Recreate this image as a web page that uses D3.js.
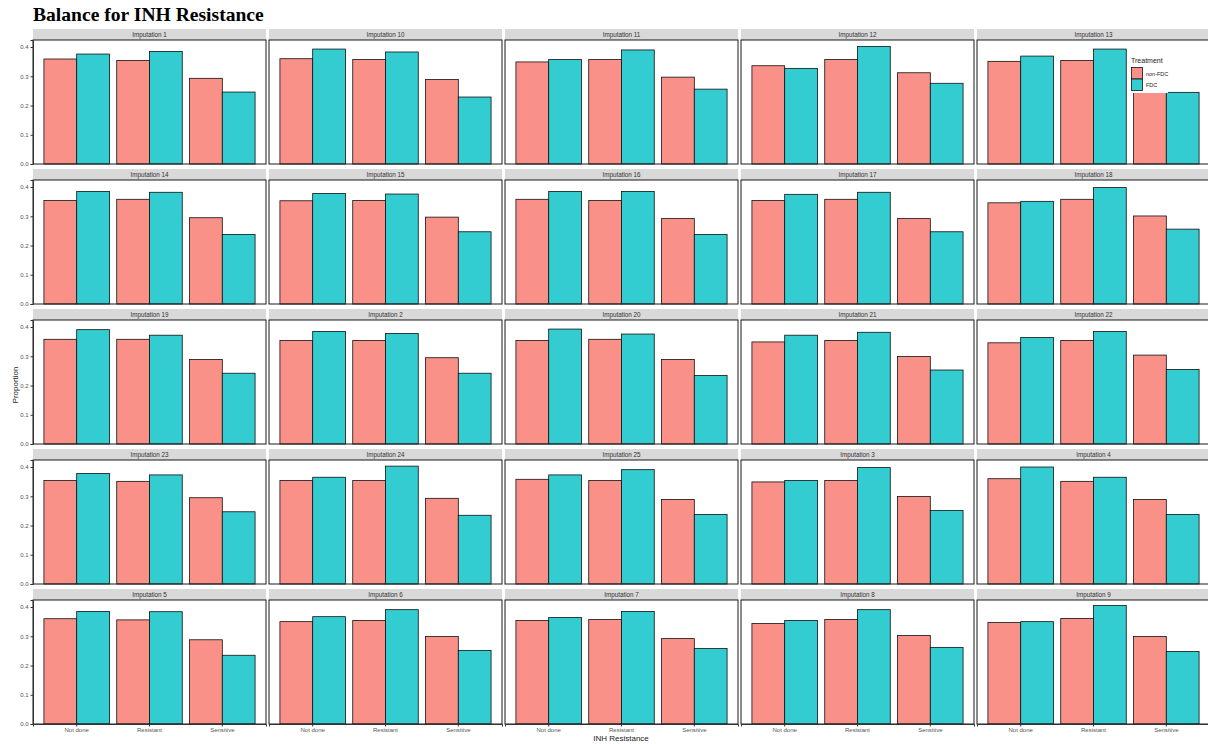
<!DOCTYPE html>
<html>
<head>
<meta charset="utf-8">
<script src="https://cdn.jsdelivr.net/npm/d3@7"></script>
<style>
  html, body { margin: 0; padding: 0; background: #fff; }
  svg { display: block; font-family: "Liberation Sans", Arial, sans-serif; }
</style>
</head>
<body>
<svg id="chart" width="1208" height="744"></svg>
<script>
// ---- data ----
const panels = ["Imputation 1","Imputation 10","Imputation 11","Imputation 12","Imputation 13",
                "Imputation 14","Imputation 15","Imputation 16","Imputation 17","Imputation 18",
                "Imputation 19","Imputation 2","Imputation 20","Imputation 21","Imputation 22",
                "Imputation 23","Imputation 24","Imputation 25","Imputation 3","Imputation 4",
                "Imputation 5","Imputation 6","Imputation 7","Imputation 8","Imputation 9"];
const categories = ["Not done", "Resistant", "Sensitive"];
const treatments = ["non-FDC", "FDC"];
// proportions per panel: [Not done, Resistant, Sensitive]
const nonFDC = [
  [0.359,0.354,0.293],[0.360,0.357,0.289],[0.349,0.357,0.297],[0.336,0.357,0.312],[0.351,0.354,0.300],
  [0.354,0.358,0.295],[0.353,0.354,0.297],[0.358,0.354,0.292],[0.354,0.358,0.292],[0.346,0.358,0.301],
  [0.358,0.358,0.289],[0.354,0.354,0.295],[0.354,0.358,0.289],[0.349,0.354,0.299],[0.346,0.354,0.304],
  [0.354,0.351,0.295],[0.354,0.354,0.293],[0.358,0.354,0.289],[0.349,0.354,0.299],[0.360,0.351,0.289],
  [0.360,0.356,0.288],[0.350,0.354,0.299],[0.354,0.357,0.292],[0.344,0.357,0.303],[0.347,0.361,0.299]
];
const FDC = [
  [0.376,0.385,0.246],[0.393,0.383,0.229],[0.357,0.390,0.256],[0.327,0.402,0.276],[0.369,0.393,0.245],
  [0.385,0.382,0.238],[0.378,0.376,0.247],[0.385,0.385,0.238],[0.375,0.382,0.247],[0.351,0.398,0.256],
  [0.391,0.372,0.242],[0.385,0.378,0.242],[0.393,0.376,0.234],[0.372,0.382,0.253],[0.364,0.385,0.255],
  [0.378,0.373,0.247],[0.365,0.403,0.235],[0.373,0.391,0.238],[0.354,0.398,0.251],[0.400,0.365,0.238],
  [0.385,0.384,0.235],[0.367,0.391,0.251],[0.364,0.385,0.258],[0.354,0.391,0.262],[0.350,0.405,0.248]
];
const yTicks = [0.0, 0.1, 0.2, 0.3, 0.4];
const title = "Balance for INH Resistance";
const xTitle = "INH Resistance";
const yTitle = "Proportion";
const legendTitle = "Treatment";

// ---- layout ----
const nCols = 5;
const left0 = 33, panelW = 233, colPitch = 236;
const stripTop0 = 29, stripH = 11, panelTop0 = 40, panelH = 124, rowPitch = 140;
const colors = { "non-FDC": "#F99189", "FDC": "#33CCD0" };
const tickCol = "#555";
const sans = "'Liberation Sans', Arial, sans-serif";

const svg = d3.select("#chart");

const y = d3.scaleLinear().domain([0, 0.424]).range([panelH, 0]);
const x = d3.scaleBand().domain(categories).range([0, panelW]).paddingInner(0.1).paddingOuter(0.15);
const xSub = d3.scaleBand().domain(treatments).range([0, x.bandwidth()]);

panels.forEach((name, i) => {
  const r = Math.floor(i / nCols), c = i % nCols;
  const px = left0 + c * colPitch;
  const stripTop = stripTop0 + r * rowPitch;
  const pTop = panelTop0 + r * rowPitch;

  // strip
  svg.append("rect").attr("x", px).attr("y", stripTop).attr("width", panelW).attr("height", stripH)
    .attr("fill", "#d9d9d9");
  svg.append("text").attr("x", px + panelW / 2).attr("y", stripTop + stripH / 2 + 2.2)
    .attr("text-anchor", "middle").style("font-size", "6.3px").style("font-family", sans)
    .attr("fill", "#333").text(name);

  const g = svg.append("g").attr("transform", `translate(${px},${pTop})`);
  const rows = categories.map((cat, k) => ({ cat, vals: [
    { t: "non-FDC", v: nonFDC[i][k] }, { t: "FDC", v: FDC[i][k] } ] }));

  g.selectAll("g.grp").data(rows).join("g").attr("class", "grp")
    .attr("transform", d => `translate(${x(d.cat)},0)`)
    .selectAll("rect").data(d => d.vals).join("rect")
    .attr("x", d => xSub(d.t)).attr("width", xSub.bandwidth())
    .attr("y", d => y(d.v)).attr("height", d => panelH - y(d.v))
    .attr("fill", d => colors[d.t]).attr("stroke", "#111").attr("stroke-width", 0.8);

  // panel border
  g.append("rect").attr("x", 0).attr("y", 0).attr("width", panelW).attr("height", panelH)
    .attr("fill", "none").attr("stroke", "#1a1a1a").attr("stroke-width", 1);

  if (c === 0) {
    const ya = g.append("g").call(d3.axisLeft(y).tickValues(yTicks).tickFormat(d3.format(".1f")).tickSize(2.5).tickPadding(2));
    ya.select(".domain").attr("stroke", "#333");
    ya.selectAll(".tick line").attr("stroke", "#333");
    ya.selectAll(".tick text").style("font-size", "6px").attr("fill", tickCol).style("font-family", sans);
  }
  if (r === Math.floor((panels.length - 1) / nCols)) {
    const xa = g.append("g").attr("transform", `translate(0,${panelH})`)
      .call(d3.axisBottom(x).tickSize(2.5).tickPadding(1.5));
    xa.select(".domain").attr("stroke", "#333");
    xa.selectAll(".tick line").attr("stroke", "#333");
    xa.selectAll(".tick text").style("font-size", "6px").attr("fill", tickCol).style("font-family", sans);
  }
});

// legend (inside, over top-right panel)
const lg = svg.append("g");
lg.append("rect").attr("x", 1127).attr("y", 54).attr("width", 41).attr("height", 39).attr("fill", "#fff");
lg.append("text").attr("x", 1131).attr("y", 63).style("font-size", "7px").style("font-family", sans)
  .attr("fill", "#222").text(legendTitle);
treatments.forEach((t, k) => {
  lg.append("rect").attr("x", 1131.5).attr("y", 67.5 + k * 11.5).attr("width", 11).attr("height", 11.5)
    .attr("fill", colors[t]).attr("stroke", "#111").attr("stroke-width", 0.8);
  lg.append("text").attr("x", 1146).attr("y", 75.5 + k * 11.5).style("font-size", "5.5px").style("font-family", sans)
    .attr("fill", "#222").text(t);
});

// titles
const tt = svg.append("text").attr("x", 33).attr("y", 21)
  .style("font-family", "'Liberation Serif', 'Times New Roman', serif")
  .style("font-weight", "bold").style("font-size", "20px").attr("fill", "#000").text(title);
const tl = tt.node().getComputedTextLength();
tt.style("font-size", (20 * 231 / tl) + "px");

svg.append("text").attr("x", 621).attr("y", 741).attr("text-anchor", "middle")
  .style("font-size", "8px").style("font-family", sans).attr("fill", "#222").text(xTitle);
svg.append("text").attr("transform", "translate(18,385) rotate(-90)").attr("text-anchor", "middle")
  .style("font-size", "8px").style("font-family", sans).attr("fill", "#222").text(yTitle);
</script>
</body>
</html>
